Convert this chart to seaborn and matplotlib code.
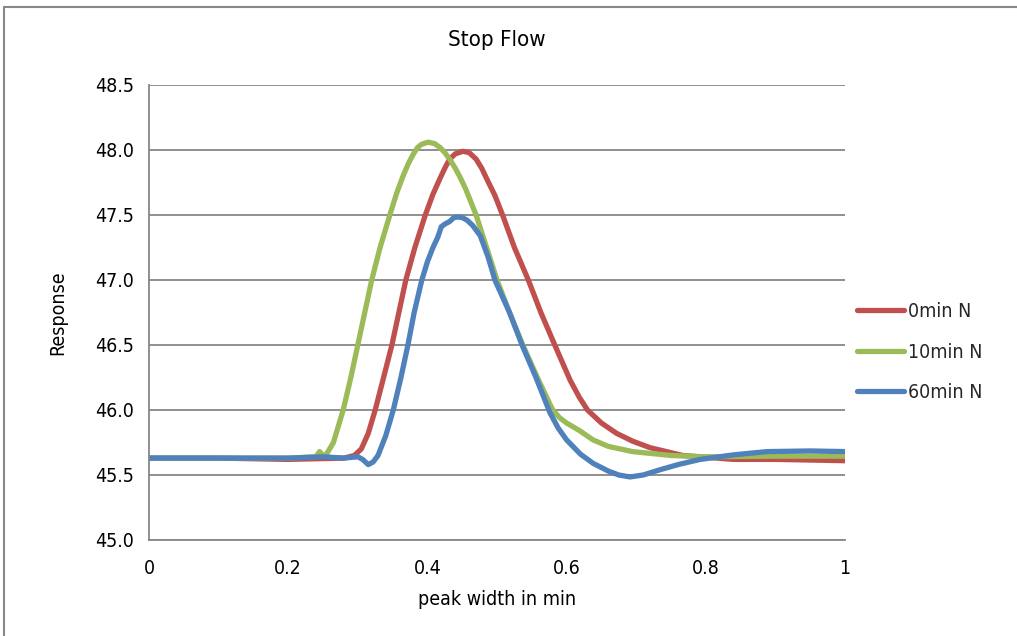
import matplotlib
matplotlib.use("Agg")
import matplotlib.pyplot as plt
from matplotlib import font_manager
from matplotlib.lines import Line2D
import pandas as pd
import seaborn as sns

# --- data ---------------------------------------------------------------
series_names = ["0min N", "10min N", "60min N"]

x_0min = [0.0, 0.1, 0.2, 0.28, 0.295, 0.305, 0.315, 0.325, 0.338, 0.349, 0.359,
          0.369, 0.382, 0.397, 0.408, 0.418, 0.425, 0.432, 0.44, 0.451, 0.46,
          0.47, 0.478, 0.486, 0.497, 0.508, 0.525, 0.545, 0.563, 0.583, 0.605,
          0.618, 0.63, 0.65, 0.672, 0.695, 0.72, 0.767, 0.84, 0.9, 1.0]
y_0min = [45.63, 45.63, 45.62, 45.63, 45.65, 45.7, 45.82, 46.0, 46.27, 46.5, 46.75,
          47.0, 47.25, 47.5, 47.66, 47.78, 47.86, 47.93, 47.97, 47.99, 47.98,
          47.93, 47.86, 47.77, 47.65, 47.5, 47.25, 47.0, 46.75, 46.5, 46.23,
          46.1, 46.0, 45.9, 45.82, 45.76, 45.71, 45.65, 45.62, 45.62, 45.61]

x_10min = [0.0, 0.1, 0.2, 0.24, 0.245, 0.25, 0.255, 0.265, 0.279, 0.29, 0.3,
           0.31, 0.32, 0.332, 0.346, 0.356, 0.365, 0.373, 0.38, 0.386, 0.392,
           0.401, 0.41, 0.418, 0.425, 0.432, 0.44, 0.447, 0.455, 0.47, 0.485,
           0.5, 0.518, 0.537, 0.558, 0.58, 0.59, 0.6, 0.619, 0.638, 0.66,
           0.695, 0.75, 0.8, 0.9, 1.0]
y_10min = [45.63, 45.63, 45.63, 45.64, 45.68, 45.65, 45.66, 45.75, 46.0, 46.25, 46.5,
           46.75, 47.0, 47.25, 47.5, 47.67, 47.8, 47.9, 47.97, 48.02, 48.045,
           48.06, 48.05, 48.02, 47.98, 47.93, 47.86, 47.79, 47.7, 47.5, 47.25,
           47.0, 46.75, 46.5, 46.25, 46.0, 45.94, 45.9, 45.84, 45.77, 45.72,
           45.68, 45.65, 45.64, 45.645, 45.645]

x_60min = [0.0, 0.1, 0.2, 0.25, 0.28, 0.3, 0.307, 0.315, 0.322, 0.329, 0.34,
           0.351, 0.362, 0.372, 0.381, 0.392, 0.4, 0.408, 0.415, 0.42, 0.425,
           0.432, 0.438, 0.444, 0.45, 0.457, 0.465, 0.476, 0.487, 0.497, 0.518,
           0.536, 0.556, 0.576, 0.588, 0.6, 0.62, 0.638, 0.66, 0.675, 0.691,
           0.71, 0.734, 0.76, 0.792, 0.84, 0.888, 0.95, 1.0]
y_60min = [45.63, 45.63, 45.63, 45.64, 45.63, 45.64, 45.62, 45.58, 45.6, 45.65, 45.8,
           46.0, 46.25, 46.5, 46.75, 47.0, 47.14, 47.25, 47.33, 47.41, 47.43,
           47.45, 47.48, 47.485, 47.48, 47.46, 47.42, 47.34, 47.18, 47.0, 46.75,
           46.5, 46.25, 45.98, 45.86, 45.77, 45.66, 45.59, 45.53, 45.5, 45.485,
           45.5, 45.54, 45.58, 45.62, 45.655, 45.68, 45.685, 45.68]

x_ticks = [0, 0.2, 0.4, 0.6, 0.8, 1]
x_tick_labels = ["0", "0.2", "0.4", "0.6", "0.8", "1"]
y_ticks = [45.0, 45.5, 46.0, 46.5, 47.0, 47.5, 48.0, 48.5]
y_tick_labels = [f"{v:.1f}" for v in y_ticks]

df = pd.concat([
    pd.DataFrame({"x": x_0min, "y": y_0min, "series": series_names[0]}),
    pd.DataFrame({"x": x_10min, "y": y_10min, "series": series_names[1]}),
    pd.DataFrame({"x": x_60min, "y": y_60min, "series": series_names[2]}),
], ignore_index=True)

# --- style ----------------------------------------------------------------
sns.set_style("white")
stretch = "normal"
for f in font_manager.fontManager.ttflist:
    if f.name == "DejaVu Sans" and str(f.stretch) in ("condensed", "semi-condensed"):
        stretch = "condensed"
plt.rcParams["font.family"] = ["DejaVu Sans"]
plt.rcParams["font.stretch"] = stretch

palette = {"0min N": "#C0504D", "10min N": "#9BBB59", "60min N": "#4F81BD"}
grid_col = "#878787"
text_col = "#000000"
fs = 14

fig = plt.figure(figsize=(10.17, 6.36), dpi=100)
ax = fig.add_axes([149 / 1017, 1 - 540 / 636, 696 / 1017, 455 / 636])

sns.lineplot(data=df, x="x", y="y", hue="series", hue_order=series_names,
             palette=palette, linewidth=3.8, sort=False, estimator=None,
             ax=ax, solid_capstyle="round", solid_joinstyle="round")

ax.set_xlim(0, 1)
ax.set_ylim(45.0, 48.5)
ax.set_xticks(x_ticks)
ax.set_xticklabels(x_tick_labels)
ax.set_yticks(y_ticks)
ax.set_yticklabels(y_tick_labels)
ax.yaxis.grid(True, color=grid_col, linewidth=1.3)
ax.xaxis.grid(False)
ax.set_axisbelow(True)

for side in ("top", "right"):
    ax.spines[side].set_visible(False)
for side in ("left", "bottom"):
    ax.spines[side].set_color(grid_col)
    ax.spines[side].set_linewidth(1.3)

ax.tick_params(axis="both", which="major", direction="out", length=5,
               width=1.3, color=grid_col, labelsize=fs, labelcolor=text_col)
ax.tick_params(axis="y", pad=6)
ax.tick_params(axis="x", pad=9)

ax.set_xlabel("peak width in min", fontsize=fs, labelpad=8, color=text_col)
ax.set_ylabel("Response", fontsize=fs, labelpad=20, color=text_col)
ax.set_title("Stop Flow", fontsize=fs + 2, pad=28, color=text_col)

handles = [Line2D([0], [0], color=palette[n], linewidth=3.8, solid_capstyle="round")
           for n in series_names]
ax.legend(handles, series_names, loc="center left", bbox_to_anchor=(1.017, 0.413),
          frameon=False, fontsize=fs, handlelength=2.45, handletextpad=0.2,
          labelspacing=1.1, borderpad=0, borderaxespad=0)

# chart frame edges
fig.add_artist(Line2D([4 / 1017, 1.0], [1 - 7 / 636, 1 - 7 / 636],
                      transform=fig.transFigure, color=grid_col, linewidth=1.5))
fig.add_artist(Line2D([4 / 1017, 4 / 1017], [0.0, 1 - 7 / 636],
                      transform=fig.transFigure, color=grid_col, linewidth=1.5))

fig.savefig("out.png", dpi=100)
